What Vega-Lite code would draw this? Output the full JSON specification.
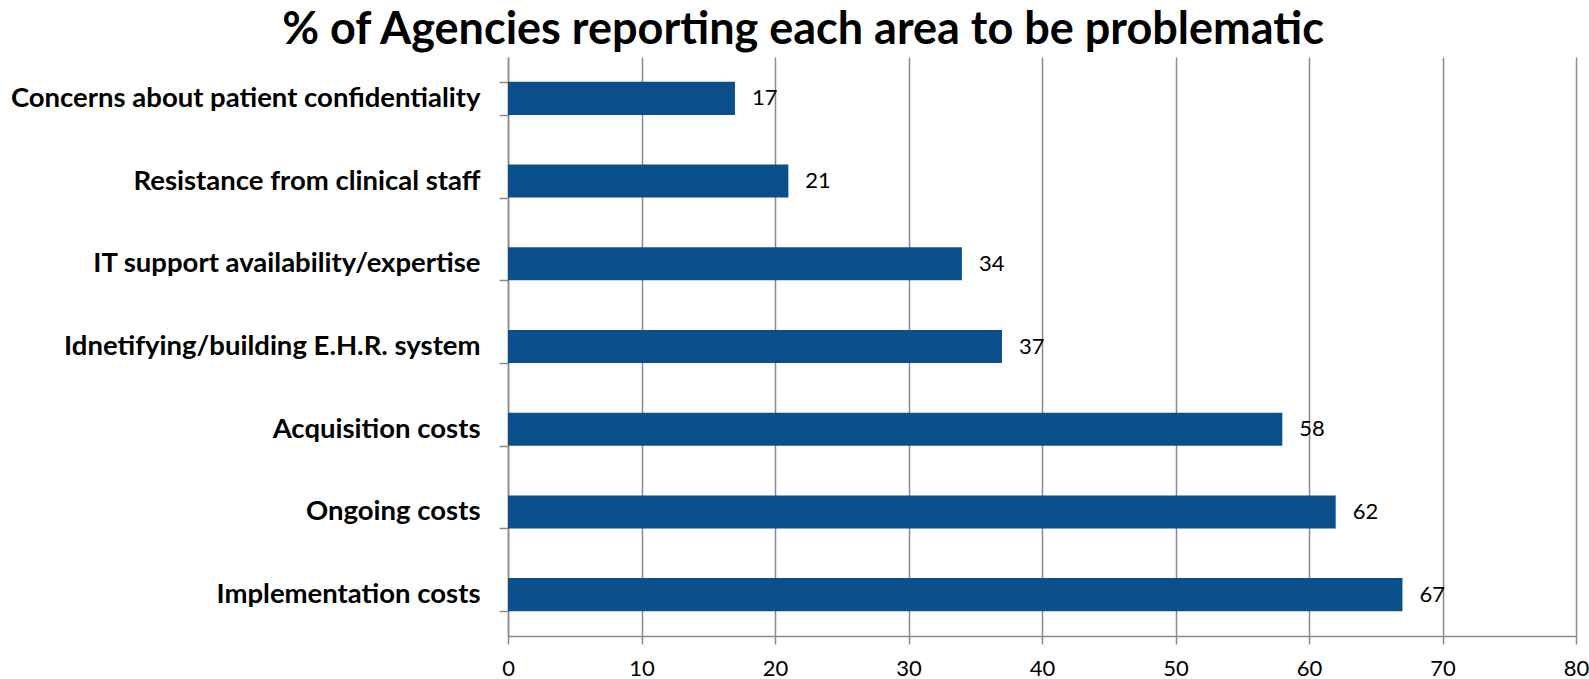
{
  "$schema": "https://vega.github.io/schema/vega-lite/v6.json",
  "autosize": "none",
  "width": 1068,
  "height": 579,
  "padding": {"left": 508, "top": 57, "right": 13, "bottom": 43},
  "background": "white",
  "title": {
    "text": "% of Agencies reporting each area to be problematic",
    "font": "Lato",
    "fontWeight": "bold",
    "fontSize": 45,
    "color": "black",
    "anchor": "middle",
    "frame": "group",
    "dx": -239,
    "dy": 16,
    "offset": 6
  },
  "config": {
    "view": {"stroke": null},
    "font": "Lato"
  },
  "data": {
    "values": [
      {"area": "Concerns about patient confidentiality", "pct": 17},
      {"area": "Resistance from clinical staff", "pct": 21},
      {"area": "IT support availability/expertise", "pct": 34},
      {"area": "Idnetifying/building E.H.R. system", "pct": 37},
      {"area": "Acquisition costs", "pct": 58},
      {"area": "Ongoing costs", "pct": 62},
      {"area": "Implementation costs", "pct": 67}
    ]
  },
  "encoding": {
    "y": {
      "field": "area",
      "type": "nominal",
      "sort": null,
      "title": null,
      "scale": {"paddingInner": 0.6, "paddingOuter": 0.3},
      "axis": {
        "domainColor": "#8a8a8a",
        "domainWidth": 1.5,
        "tickColor": "#8a8a8a",
        "tickWidth": 1.5,
        "tickSize": 9,
        "tickBand": "extent",
        "labelFont": "Lato",
        "labelFontWeight": "bold",
        "labelFontSize": 27.5,
        "labelColor": "black",
        "labelPadding": 19,
        "labelLimit": 600,
        "grid": false
      }
    },
    "x": {
      "field": "pct",
      "type": "quantitative",
      "title": null,
      "scale": {"domain": [0, 80], "nice": false},
      "axis": {
        "values": [0, 10, 20, 30, 40, 50, 60, 70, 80],
        "grid": true,
        "gridColor": "#8a8a8a",
        "gridWidth": 1.5,
        "domainColor": "#8a8a8a",
        "domainWidth": 1.5,
        "tickColor": "#8a8a8a",
        "tickWidth": 1.5,
        "tickSize": 8,
        "labelFont": "Lato",
        "labelFontSize": 22,
        "labelColor": "black",
        "labelPadding": 14,
        "labelFlush": false
      }
    }
  },
  "layer": [
    {
      "mark": {"type": "bar", "color": "#0b4f8a"}
    },
    {
      "mark": {"type": "text", "align": "left", "baseline": "middle", "dx": 17, "fontSize": 22, "font": "Lato", "color": "black"},
      "encoding": {"text": {"field": "pct", "type": "quantitative"}}
    }
  ]
}
